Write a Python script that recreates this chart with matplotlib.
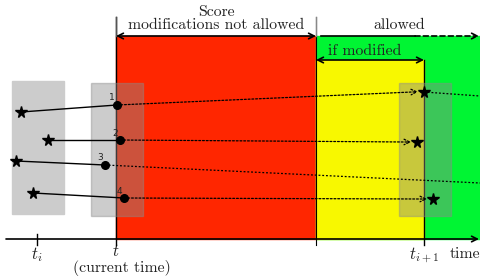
import matplotlib
matplotlib.use("Agg")
import matplotlib.pyplot as plt
from matplotlib.patches import Rectangle

plt.rcParams['mathtext.fontset'] = 'cm'

# ---- data (pixel-like coordinates, y grows downward) ----
labels = ['1', '2', '3', '4']
past_x = [21, 48, 16, 33]          # stars at t_i
past_y = [112, 140, 161, 193]
now_x = [117, 120, 105, 124]       # scores at current time t
now_y = [105, 140, 165, 198]
future_x = [424, 417, 480, 433]    # stars at t_{i+1} (3 goes beyond)
future_y = [92, 142, 183, 199]
t_i, t_now, t_border, t_next = 37, 116, 316, 424
axis_y = 239

fig = plt.figure(figsize=(4.8, 2.76), dpi=100)
ax = fig.add_axes([0, 0, 1, 1])
ax.set_xlim(0, 480)
ax.set_ylim(276, 0)
ax.axis('off')

red = '#ff2600'
yellow = '#f8f800'
green = '#00f533'

# coloured regions
ax.add_patch(Rectangle((t_now, 36), t_border - t_now, axis_y - 36, color=red, zorder=1))
ax.add_patch(Rectangle((t_border, 36), 480 - t_border, axis_y - 36, color=green, zorder=1))
ax.add_patch(Rectangle((t_border, 60), t_next - t_border, axis_y - 60, color=yellow, zorder=1.5))

# gray windows
gray = (139/255, 139/255, 139/255)
ax.add_patch(Rectangle((12, 81), 52, 133, color=(0.8, 0.8, 0.8), zorder=2))
ax.add_patch(Rectangle((91, 83), 52, 133, color=gray, alpha=0.44, zorder=6))
ax.add_patch(Rectangle((399, 83), 52, 133, color=gray, alpha=0.44, zorder=6))

# vertical lines
ax.plot([t_now, t_now], [17, 245], color='black', lw=1.0, zorder=4)
ax.plot([t_border, t_border], [17, 245], color='black', lw=0.8, zorder=4)
ax.plot([t_next, t_next], [60, 245], color='black', lw=1.0, zorder=4)
ax.plot([t_i, t_i], [234, 245], color='black', lw=1.0, zorder=4)
ax.plot([t_border, t_border], [17, 36], color='#888888', lw=1.0, zorder=4.1)
ax.plot([t_now, t_now], [17, 36], color='#555555', lw=1.0, zorder=4.1)

ann = dict(annotation_clip=False)
# time axis
ax.annotate('', xy=(479, axis_y), xytext=(6, axis_y),
            arrowprops=dict(arrowstyle='->', lw=1.2, color='black', shrinkA=0, shrinkB=0),
            zorder=5, **ann)

# top arrows
ax.annotate('', xy=(t_now, 36), xytext=(t_border, 36),
            arrowprops=dict(arrowstyle='<->', lw=1.2, color='black', shrinkA=0, shrinkB=0),
            zorder=5, **ann)
ax.plot([321, 415], [36, 36], color='black', lw=1.2, zorder=5)
ax.annotate('', xy=(479, 36), xytext=(415, 36),
            arrowprops=dict(arrowstyle='->', lw=1.2, color='black', ls=(0, (3, 2)), shrinkA=0, shrinkB=0),
            zorder=5, **ann)
ax.annotate('', xy=(t_border, 60), xytext=(t_next, 60),
            arrowprops=dict(arrowstyle='<->', lw=1.2, color='black', shrinkA=0, shrinkB=0),
            zorder=5, **ann)

tf = dict(family='cmr10', fontsize=11.3, color='#222222', zorder=7)
ax.text(216, 12, 'Score', ha='center', va='center', **tf)
ax.text(216, 25, 'modifications not allowed', ha='center', va='center', **tf)
ax.text(399, 25, 'allowed', ha='center', va='center', **tf)
ax.text(365, 51, 'if modified', ha='center', va='center', **tf)

# score trajectories
for lab, px, py, nx, ny, fx, fy in zip(labels, past_x, past_y, now_x, now_y, future_x, future_y):
    ax.plot([px, nx], [py, ny], color='black', lw=1.0, zorder=7)
    ax.plot(px, py, marker='*', color='black', ms=8.5, zorder=8)
    ax.plot(nx, ny, marker='o', color='black', ms=5.5, zorder=8)
    if fx < 480:
        ax.annotate('', xy=(fx - 6, fy + (fy - ny) * 0.02), xytext=(nx, ny),
                    arrowprops=dict(arrowstyle='->', lw=0.9, color='black', ls=(0, (1.5, 1.5)),
                                    shrinkA=0, shrinkB=0), zorder=7, **ann)
        ax.plot(fx, fy, marker='*', color='black', ms=8.5, zorder=8)
    else:
        ax.plot([nx, fx], [ny, fy], color='black', lw=0.9, ls=(0, (1.5, 1.5)), zorder=7)
    ax.text(nx - 5, ny - 7, lab, ha='center', va='center', fontsize=6.5,
            family='DejaVu Sans', color='#222222', zorder=9)

# continuation from star 1 to the right
ax.plot([future_x[0], 480], [future_y[0], 96], color='black', lw=0.9, ls=(0, (1.5, 1.5)), zorder=7)

# axis labels
ax.text(t_i, 255, r'$t_i$', ha='center', va='center', fontsize=12, color='#222222')
ax.text(t_now, 251, r'$t$', ha='center', va='center', fontsize=12, color='#222222')
ax.text(122, 268, '(current time)', ha='center', va='center', **tf)
ax.text(t_next, 255, r'$t_{i+1}$', ha='center', va='center', fontsize=12, color='#222222')
ax.text(465, 254, 'time', ha='center', va='center', **tf)

fig.savefig('out.png', dpi=100)
